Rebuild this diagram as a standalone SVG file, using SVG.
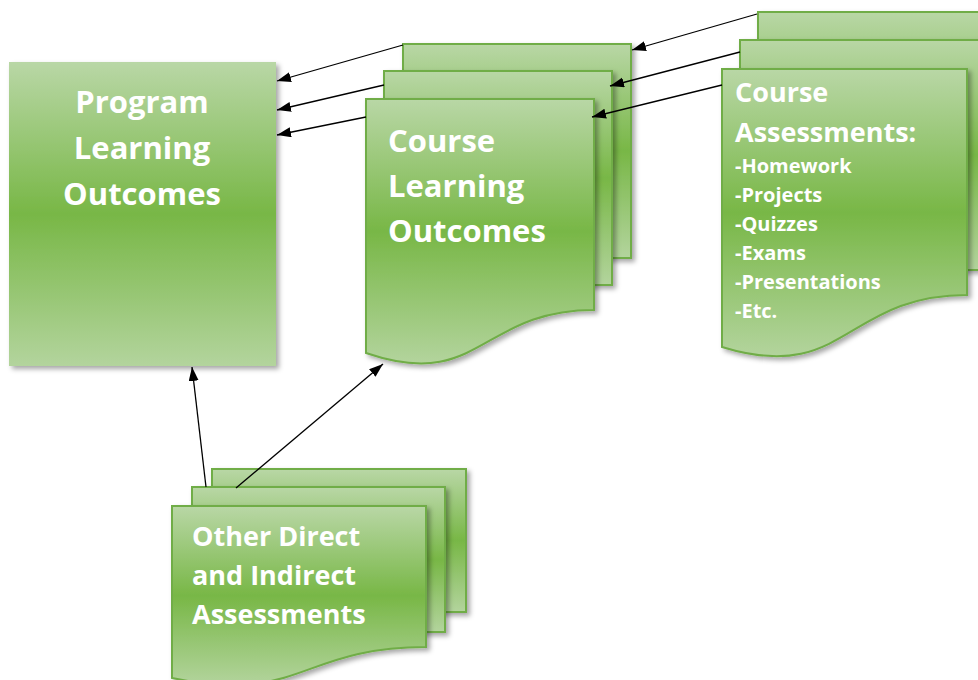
<svg xmlns="http://www.w3.org/2000/svg" width="978" height="680" viewBox="0 0 978 680">
<defs>
<linearGradient id="g" x1="0" y1="0" x2="0" y2="1">
<stop offset="0" stop-color="#b9d7a6"/>
<stop offset="0.5" stop-color="#78b746"/>
<stop offset="1" stop-color="#b3d49d"/>
</linearGradient>
<filter id="sh" x="-10%" y="-10%" width="130%" height="130%">
<feDropShadow dx="3" dy="3" stdDeviation="2.5" flood-color="#000" flood-opacity="0.35"/>
</filter>
<marker id="ah" markerUnits="userSpaceOnUse" markerWidth="16" markerHeight="12" refX="14" refY="5" orient="auto">
<path d="M0,0 L14,5 L0,10 z" fill="#000"/>
</marker>
<style>
.sheet{fill:url(#g);stroke:#70ad47;stroke-width:2;filter:url(#sh)}
.box{fill:url(#g);filter:url(#sh)}
.t{fill:#fff;font-family:"Open Sans","Liberation Sans",sans-serif;font-weight:700}
.c{stroke:#000;stroke-width:1.3;fill:none;marker-end:url(#ah)}
</style>
</defs>
<g id="program">
<rect class="box" x="9" y="62" width="267" height="304"/>
<text class="t" font-size="31" text-anchor="middle"><tspan x="142" y="113">Program</tspan><tspan x="142" y="159">Learning</tspan><tspan x="142" y="205">Outcomes</tspan></text>
</g>
<g id="course-learning-outcomes">
<rect class="sheet" x="403" y="44" width="228" height="214"/>
<rect class="sheet" x="384" y="71" width="228" height="214"/>
<path class="sheet" d="M366,99 H594 V310 C480,310 480,392 366,353 Z"/>
<text class="t" font-size="31"><tspan x="388" y="152">Course</tspan><tspan x="388" y="197">Learning</tspan><tspan x="388" y="242">Outcomes</tspan></text>
</g>
<g id="course-assessments">
<rect class="sheet" x="758" y="12" width="245" height="232"/>
<rect class="sheet" x="740" y="40" width="245" height="230"/>
<path class="sheet" d="M722,69 H967 V295 C845,295 845,385 722,347 Z"/>
<text class="t" font-size="27"><tspan x="735" y="102">Course</tspan><tspan x="735" y="142">Assessments:</tspan></text>
<text class="t" font-size="20"><tspan x="735" y="173">-Homework</tspan><tspan x="735" y="202">-Projects</tspan><tspan x="735" y="231">-Quizzes</tspan><tspan x="735" y="260">-Exams</tspan><tspan x="735" y="289">-Presentations</tspan><tspan x="735" y="318">-Etc.</tspan></text>
</g>
<g id="other-assessments">
<rect class="sheet" x="212" y="469" width="254" height="143"/>
<rect class="sheet" x="192" y="487" width="253" height="145"/>
<path class="sheet" d="M172,506 H426 V647 C300,647 300,705 172,678 Z"/>
<text class="t" font-size="27"><tspan x="192" y="546">Other Direct</tspan><tspan x="192" y="585">and Indirect</tspan><tspan x="192" y="624">Assessments</tspan></text>
</g>
<g id="connectors">
<line class="c" x1="403" y1="45" x2="277" y2="81"/>
<line class="c" x1="384" y1="85" x2="277" y2="110"/>
<line class="c" x1="366" y1="117" x2="277" y2="135"/>
<line class="c" x1="757" y1="14" x2="632" y2="50"/>
<line class="c" x1="740" y1="52" x2="610" y2="86"/>
<line class="c" x1="722" y1="85" x2="592" y2="117"/>
<line class="c" x1="206" y1="487" x2="192" y2="367"/>
<line class="c" x1="236" y1="488" x2="383" y2="364"/>
</g>
</svg>
